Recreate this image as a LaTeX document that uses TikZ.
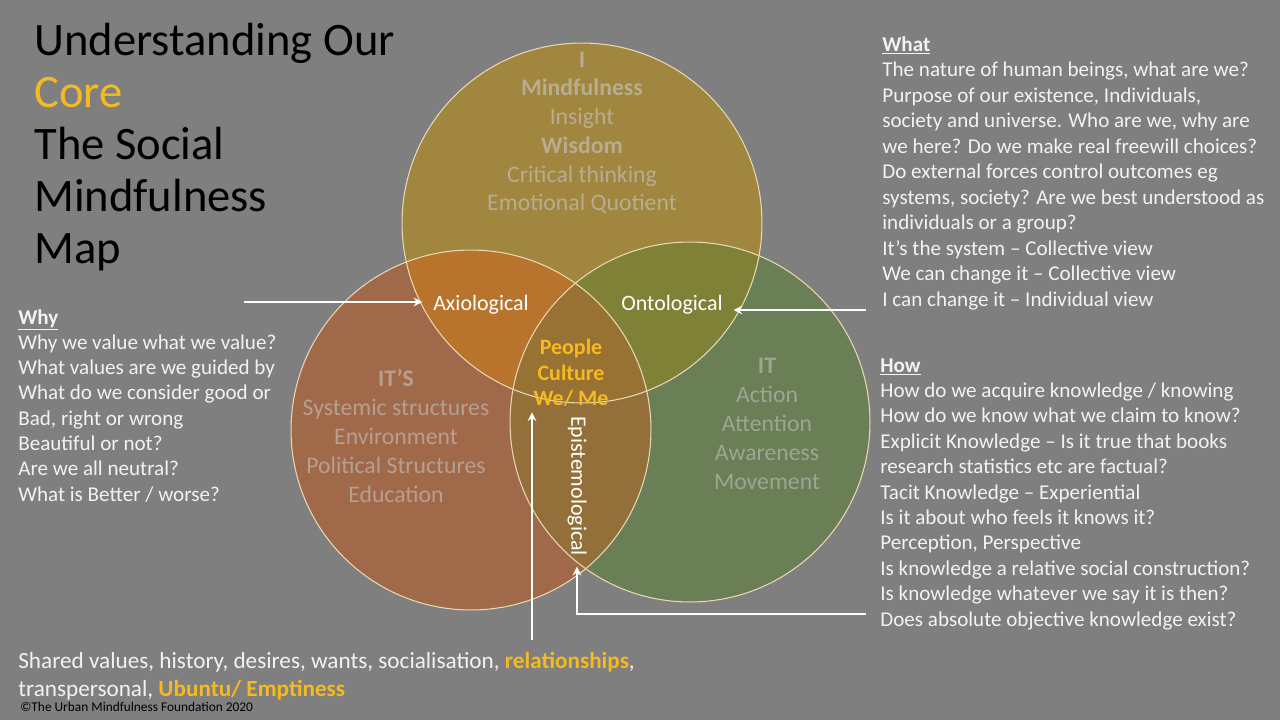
\documentclass[tikz,border=0pt]{standalone}
\usepackage{fontspec}
\setmainfont{Carlito}
\usepackage{tikz}
\usetikzlibrary{arrows,calc}
\tikzstyle{arrow} = [line width=1.2pt,->,>=stealth,draw=white]

\definecolor{slide}{HTML}{7F7F7F}
\definecolor{gold}{HTML}{F5B921}
\definecolor{rim}{HTML}{E8D8B4}
\definecolor{ifill}{HTML}{A0863F}
\definecolor{itsfill}{HTML}{A0694A}
\definecolor{itfill}{HTML}{6A7F55}
\definecolor{axfill}{HTML}{B8732C}
\definecolor{onfill}{HTML}{7F8236}
\definecolor{epfill}{HTML}{93703A}
\definecolor{corefill}{HTML}{987232}
\definecolor{itext}{HTML}{B8AD90}
\definecolor{itstext}{HTML}{B79F90}
\definecolor{ittext}{HTML}{9EA594}

\begin{document}
\begin{tikzpicture}
[x=0.02cm, y=-0.02cm,
ring/.style={draw=rim, line width=0.6pt},
ctext/.style={anchor=base, text=itext, font=\fontsize{13.5}{16}\selectfont, inner sep=0pt},
sidetext/.style={anchor=base west, text=white!95!black, font=\fontsize{12}{14.5}\selectfont, inner sep=0pt},
label/.style={text=white, font=\fontsize{12.5}{15}\selectfont, inner sep=6pt},
title/.style={anchor=base west, font=\fontsize{26.5}{29.5}\selectfont, inner sep=0pt},]
\fill[slide] (0,0) rectangle (1280,720);
\useasboundingbox (0,0) rectangle (1280,720);

% the three circles
\coordinate (icirc) at (582,223);
\coordinate (itscirc) at (471,430);
\coordinate (itcirc) at (690,422);
\fill[itsfill] (itscirc) circle (3.6cm);
\fill[itfill] (itcirc) circle (3.6cm);
\fill[ifill] (icirc) circle (3.6cm);
\begin{scope}
\clip (icirc) circle (3.6cm);
\fill[axfill] (itscirc) circle (3.6cm);
\fill[onfill] (itcirc) circle (3.6cm);
\end{scope}
\begin{scope}
\clip (itscirc) circle (3.6cm);
\fill[epfill] (itcirc) circle (3.6cm);
\end{scope}
\begin{scope}
\clip (icirc) circle (3.6cm);
\clip (itscirc) circle (3.6cm);
\fill[corefill] (itcirc) circle (3.6cm);
\end{scope}
\draw[ring] (itscirc) circle (3.6cm);
\draw[ring] (itcirc) circle (3.6cm);
\draw[ring] (icirc) circle (3.6cm);

% title
\node[title] (title1) at (34,55) {Understanding Our};
\node[title,text=gold] (title2) at (34,107) {Core};
\node[title] (title3) at (34,159) {The Social};
\node[title] (title4) at (34,211) {Mindfulness};
\node[title] (title5) at (34,263) {Map};

% circle texts
\node[ctext] (i0) at (582,67) {\textbf{I}};
\node[ctext] (i1) at (582,95) {\textbf{Mindfulness}};
\node[ctext] (i2) at (582,124) {Insight};
\node[ctext] (i3) at (582,153) {\textbf{Wisdom}};
\node[ctext] (i4) at (582,182) {Critical thinking};
\node[ctext] (i5) at (582,210) {Emotional Quotient};

\node[ctext,text=itstext] (its0) at (396,386) {\textbf{IT’S}};
\node[ctext,text=itstext] (its1) at (396,415) {Systemic structures};
\node[ctext,text=itstext] (its2) at (396,444) {Environment};
\node[ctext,text=itstext] (its3) at (396,473) {Political Structures};
\node[ctext,text=itstext] (its4) at (396,502) {Education};

\node[ctext,text=ittext] (it0) at (767,373) {\textbf{IT}};
\node[ctext,text=ittext] (it1) at (767,402) {Action};
\node[ctext,text=ittext] (it2) at (767,431) {Attention};
\node[ctext,text=ittext] (it3) at (767,460) {Awareness};
\node[ctext,text=ittext] (it4) at (767,489) {Movement};

% overlap labels
\node[label] (axio) at (481,305) {Axiological};
\node[label] (onto) at (672,305) {Ontological};
\node[label,rotate=-90] (epi) at (577,486) {Epistemological};
\node[label,text=gold,align=center,font=\fontsize{12.5}{14.5}\selectfont\bfseries,inner sep=3pt] (people) at (571,373) {People\\Culture\\We/ Me};

% side texts
\foreach \txt [count=\i from 0] in {\underline{\textbf{What}},
  The nature of human beings{,} what are we?,
  Purpose of our existence{,} Individuals{,},
  society and universe. Who are we{,} why are,
  we here? Do we make real freewill choices?,
  Do external forces control outcomes eg,
  systems{,} society? Are we best understood as,
  individuals or a group?,
  It’s the system – Collective view,
  We can change it – Collective view,
  I can change it – Individual view}
  \node[sidetext] (what\i) at (882,51+25.5*\i) {\txt};

\foreach \txt [count=\i from 0] in {\underline{\textbf{How}},
  How do we acquire knowledge / knowing,
  How do we know what we claim to know?,
  Explicit Knowledge – Is it true that books,
  research statistics etc are factual?,
  Tacit Knowledge – Experiential,
  Is it about who feels it knows it?,
  {Perception, Perspective},
  Is knowledge a relative social construction?,
  Is knowledge whatever we say it is then?,
  Does absolute objective knowledge exist?}
  \node[sidetext] (how\i) at (880,372+25.4*\i) {\txt};

\foreach \txt [count=\i from 0] in {\underline{\textbf{Why}},
  Why we value what we value?,
  What values are we guided by,
  What do we consider good or,
  {Bad, right or wrong},
  Beautiful or not?,
  Are we all neutral?,
  What is Better / worse?}
  \node[sidetext] (why\i) at (18,324+25.3*\i) {\txt};

% bottom text
\node[sidetext,font=\fontsize{13.2}{16}\selectfont] (shared1) at (18,668) {Shared values, history, desires, wants, socialisation, \textcolor{gold}{\textbf{relationships}},};
\node[sidetext,font=\fontsize{13.2}{16}\selectfont] (shared2) at (18,696) {transpersonal, \textcolor{gold}{\textbf{Ubuntu/ Emptiness}}};
\node[sidetext,text=black,font=\fontsize{7.6}{8}\selectfont] (copy) at (20,711) {©The Urban Mindfulness Foundation 2020};

% arrows
\coordinate (whyin) at (244,302);
\coordinate (whatin) at (866,310);
\coordinate (sharedin) at (532,640);
\coordinate (howin) at (866,614);
\draw[arrow] (whyin) -- (whyin -| axio.west);
\draw[arrow] (whatin) -- (whatin -| onto.east);
\draw[arrow] (sharedin) -- (sharedin |- people.south);
\draw[arrow] (howin) -| (epi.east);
\end{tikzpicture}
\end{document}
